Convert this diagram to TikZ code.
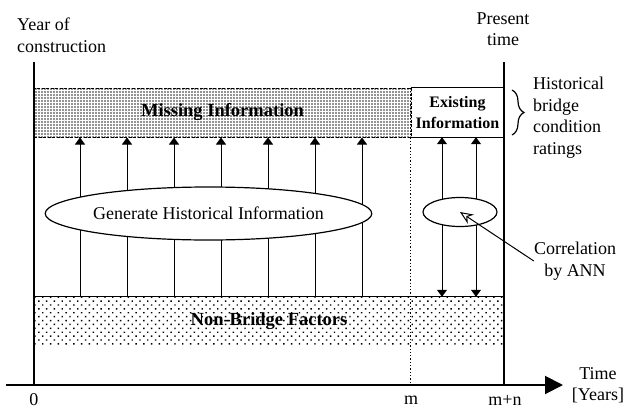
\documentclass[tikz,border=0pt]{standalone}
\usepackage{fontspec}
\setmainfont{Liberation Serif}
\usetikzlibrary{arrows.meta,shapes.geometric,patterns.meta,decorations.pathreplacing}

\tikzset{
    txt/.style={font=\fontsize{18}{21.5}\selectfont, inner sep=0pt},
    bld/.style={font=\fontsize{18.5}{21}\selectfont\bfseries, inner sep=0pt},
    frame/.style={line width=1.2pt},
    mline/.style={line width=1.3pt, dash pattern=on 1.3pt off 2pt},
    upar/.style={line width=1pt, -{Triangle[length=7pt,width=10pt]}},
    bothar/.style={line width=1pt, {Triangle[length=7pt,width=10pt]}-{Triangle[length=7pt,width=10pt]}},
    oval/.style={ellipse, draw, line width=1.2pt, fill=white, inner sep=0pt},
    missbox/.style={bld, minimum width=377pt, minimum height=49pt, draw, line width=1pt,
        dash pattern=on 3pt off 1.5pt, pattern={Dots[distance=3pt,radius=0.95pt]}, pattern color=black!85},
    factbox/.style={bld, minimum width=470pt, minimum height=48pt,
        pattern={Dots[distance=5.5pt,angle=45,radius=1pt]}, pattern color=black},
}

\begin{document}
\begin{tikzpicture}[x=1pt,y=-1pt]
    \fill[white] (0,0) rectangle (625,410);
    \useasboundingbox (0,0) rectangle (625,410);
    \coordinate (O) at (6,385);
    \coordinate (T) at (563,385);
    \coordinate (start) at (34,62);
    \coordinate (now) at (504,62);
    \coordinate (bt) at (512,90);
    \coordinate (bb) at (512,135);

    \node[missbox] (miss) at (222.5,112.5) {Missing Information};
    \node[factbox] (factors) at (269,321) {Non-Bridge Factors};
    \node[bld, font=\fontsize{16}{21.5}\selectfont\bfseries, align=center,
        minimum width=93pt, minimum height=49pt] (exist) at (457.5,112.5) {Existing\\Information};

    \draw[frame] (exist.north west) -- (exist.north east);
    \draw[frame] (exist.south west) -- (exist.south east);
    \draw[frame] (factors.north west) -- (factors.north east);
    \draw[frame] (start) -- (start |- O);
    \draw[frame] (now) -- (now |- O);
    \draw[mline] (exist.north west) -- (exist.north west |- O);
    \draw[line width=2pt, -{Triangle[length=18pt,width=18pt]}] (O) -- (T);

    \foreach \x in {80,127,...,362}
        \draw[upar] (factors.north -| \x,0) -- (miss.south -| \x,0);
    \foreach \x in {442,476}
        \draw[bothar] (factors.north -| \x,0) -- (exist.south -| \x,0);

    \node[oval, txt, minimum width=293pt, minimum height=53pt] (gen) at (208.5,213.5) {Generate Historical Information};
    \node[oval, minimum width=74pt, minimum height=29pt] (ann) at (460,212) {};

    \node[txt, align=left, anchor=west] (built) at (17,35) {Year of\\construction};
    \node[txt, align=center] (present) at (503,29) {Present\\time};
    \node[txt, align=left, anchor=west] (hist) at (533,117.5) {Historical\\bridge\\condition\\ratings};
    \node[txt, align=center] (corr) at (575,261) {Correlation\\by ANN};
    \node[txt, align=center] (time) at (598,385) {Time\\{[Years]}};
    \node[txt] (zero) at (34,400) {0};
    \node[txt] (m) at (411,400) {m};
    \node[txt] (mn) at (505,400) {m+n};

    \draw[line width=1pt, -{Stealth[open,length=13pt,width=11pt]}] (corr.west) -- (ann.center);
    \draw[frame, decorate, decoration={brace, amplitude=12pt}] (bt) -- (bb);
\end{tikzpicture}
\end{document}
